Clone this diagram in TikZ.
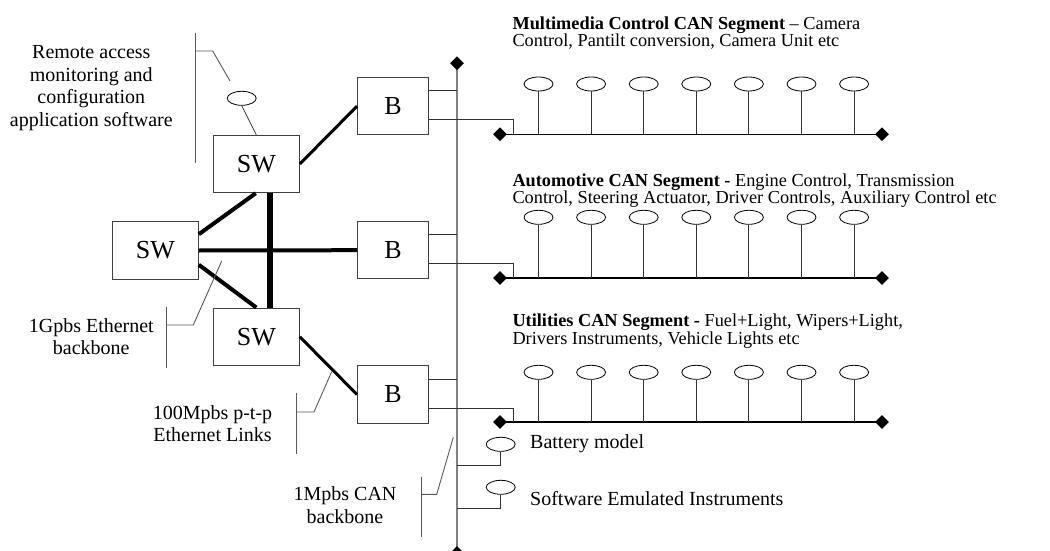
\documentclass[tikz,border=0pt]{standalone}
\usepackage{fontspec}
\setmainfont{Liberation Serif}
\usetikzlibrary{shapes.geometric,calc}
\tikzset{
 box/.style={draw=black!75, line width=1pt, minimum width=86pt, minimum height=57.5pt, inner sep=0pt, font=\fontsize{26}{28}\selectfont},
 bbox/.style={box, minimum width=71pt},
 dia/.style={diamond, fill=black, draw=none, minimum width=14pt, minimum height=14pt, inner sep=0pt},
 dev/.style={ellipse, draw=black, line width=0.8pt, minimum width=29pt, minimum height=14pt, inner sep=0pt},
 lbl/.style={inner sep=0pt, font=\fontsize{20}{22}\selectfont},
 seg/.style={inner sep=0pt, anchor=base west, font=\fontsize{18.3}{17}\selectfont},
 callout/.style={draw=black!65, line width=0.9pt},
 bus/.style={draw=black!50, line width=1.8pt},
 canline/.style={draw=black, line width=1.2pt},
 stem/.style={draw=black!80, line width=1pt},
 eth/.style={draw=black, line cap=butt}
}
\begin{document}
\begin{tikzpicture}[x=1pt,y=-1pt]
\useasboundingbox (0,0) rectangle (1050,551);

% boxes
\node[box] (sw1) at (256.3,164) {SW};
\node[box] (sw0) at (155.3,250.5) {SW};
\node[box] (sw2) at (256.3,336.8) {SW};
\node[bbox] (b1) at (393,106.2) {B};
\node[bbox] (b2) at (393,250.2) {B};
\node[bbox] (b3) at (393,394.5) {B};

% ethernet links
\draw[eth, line width=4pt] ([yshift=-13pt]sw0.north east) -- ([xshift=-0.6pt]sw1.south);
\draw[eth, line width=4pt] (sw0.east) -- (b2.west);
\draw[eth, line width=5.3pt] ([xshift=13.7pt]sw1.south) -- ([xshift=13.7pt]sw2.north);
\draw[eth, line width=4pt] ([yshift=15pt]sw0.south east) -- (sw2.north);
\draw[eth, line width=3pt] (sw1.east) -- (b1.west);
\draw[eth, line width=3pt] (sw2.east) -- (b3.west);

% CAN backbone
\coordinate (ctop) at (457,63.3);
\coordinate (cbot) at (457,553);
\draw[bus] (ctop) -- (cbot);

% segments
\coordinate (s1a) at (500,134.3); \coordinate (s1b) at (882,134.3); \coordinate (s1k) at (513,134.3);
\coordinate (s2a) at (500,278);   \coordinate (s2b) at (882,278);   \coordinate (s2k) at (513,278);
\coordinate (s3a) at (500,422);   \coordinate (s3b) at (882,422);   \coordinate (s3k) at (513,422);
\foreach \s in {1,2,3}{
  \draw[canline] (s\s a) -- (s\s b);
  \draw[stem] ([yshift=-43pt]b\s.north east) -| (s\s k);
  \draw[stem] ([yshift=-14pt]b\s.north east) -- ([yshift=-14pt]b\s.north east -| ctop);
}
\foreach \s/\ey in {1/84,2/217.3,3/372.3}{
  \foreach \k in {1,...,7}{
    \node[dev] (e\s\k) at ({538.5+52.6*(\k-1)},\ey) {};
    \draw[stem] (e\s\k.south) -- (e\s\k.south |- s\s a);
  }
}

% diamonds
\node[dia] (dtop) at (ctop) {};
\node[dia] (dbot) at (cbot) {};
\foreach \s in {1,2,3}{
  \node[dia] (d\s a) at (s\s a) {};
  \node[dia] (d\s b) at (s\s b) {};
}

% backbone devices
\node[dev] (bat) at (500.7,444.3) {};
\coordinate (batj) at (457,465.7);
\draw[stem] (bat.south) |- (batj);
\node[dev] (swe) at (500.7,487.3) {};
\coordinate (swej) at (457,508.3);
\draw[stem] (swe.south) |- (swej);
\node[lbl, anchor=base west] (tbat) at (530,448.3) {Battery model};
\node[lbl, anchor=base west] (tswe) at (530,505) {Software Emulated Instruments};

% remote access device
\node[dev] (rem) at (241.7,98.3) {};
\draw[stem, line width=0.8pt] (rem.south) -- (sw1.north);

% segment texts
\node[seg] (t1a) at (512.3,29.3) {\textbf{Multimedia Control CAN Segment }– Camera};
\node[seg] (t1b) at (512.3,46.3) {Control, Pantilt conversion, Camera Unit etc};
\node[seg] (t2a) at (512.3,186) {\textbf{Automotive CAN Segment -} Engine Control, Transmission};
\node[seg] (t2b) at (512.3,203.3) {Control, Steering Actuator, Driver Controls, Auxiliary Control etc};
\node[seg] (t3a) at (512.3,326.7) {\textbf{Utilities CAN Segment -} Fuel+Light, Wipers+Light,};
\node[seg] (t3b) at (512.3,344.3) {Drivers Instruments, Vehicle Lights etc};

% left labels
\node[lbl, anchor=base] (ra) at (91.3,59) {Remote access};
\node[lbl, anchor=base] (rb) at (91.3,81.7) {monitoring and};
\node[lbl, anchor=base] (rc) at (91.3,103.3) {configuration};
\node[lbl, anchor=base] (rd) at (91.3,126) {application software};
\node[lbl, anchor=base] (ga) at (91.3,332) {1Gpbs Ethernet};
\node[lbl, anchor=base] (gb) at (91.3,354.5) {backbone};
\node[lbl, anchor=base] (ma) at (212.5,419) {100Mpbs p-t-p};
\node[lbl, anchor=base] (mb) at (212.5,441) {Ethernet Links};
\node[lbl, anchor=base] (ca) at (345,500.7) {1Mpbs CAN};
\node[lbl, anchor=base] (cb) at (345,523.3) {backbone};

% callout leaders
\coordinate (r1) at (195.7,33.3); \coordinate (r2) at (195.7,163.3);
\coordinate (r3) at (195.7,51);   \coordinate (r4) at (212.7,51); \coordinate (r5) at (230,81);
\draw[callout] (r1) -- (r2);
\draw[callout] (r3) -- (r4) -- (r5);
\coordinate (g1) at (166.7,306.7); \coordinate (g2) at (166.7,368.3);
\coordinate (g3) at (166.7,325);   \coordinate (g4) at (193.3,325); \coordinate (g5) at (221.7,261);
\draw[callout] (g1) -- (g2);
\draw[callout] (g3) -- (g4) -- (g5);
\coordinate (m1) at (296,393.3); \coordinate (m2) at (296,454.3);
\coordinate (m3) at (296,412);   \coordinate (m4) at (314,412); \coordinate (m5) at (331.7,371.7);
\draw[callout] (m1) -- (m2);
\draw[callout] (m3) -- (m4) -- (m5);
\coordinate (c1) at (421.7,476.7); \coordinate (c2) at (421.7,537.3);
\coordinate (c3) at (421.7,494.3); \coordinate (c4) at (436.7,494.3); \coordinate (c5) at (453.3,437.3);
\draw[callout] (c1) -- (c2);
\draw[callout] (c3) -- (c4) -- (c5);
\end{tikzpicture}
\end{document}
